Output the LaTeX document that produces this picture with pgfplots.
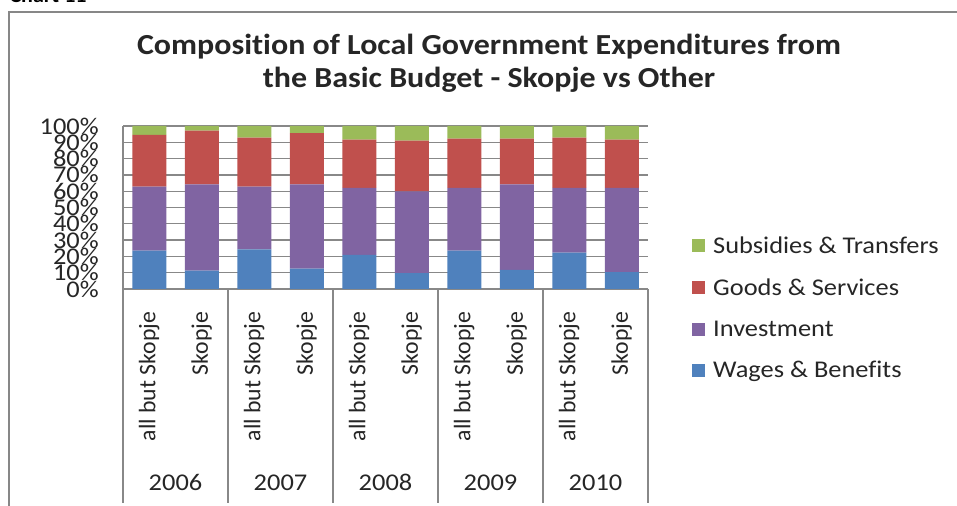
\documentclass[border=0pt]{standalone}
\usepackage{fontspec}
\setmainfont{Carlito}[FakeStretch=1.1, Ligatures={NoCommon}]
\newfontfamily\rotfont{Carlito}[Ligatures={NoCommon}]
\usepackage{pgfplots}
\usepackage{pgfplotstable}
\pgfplotsset{compat=1.18}
\definecolor{cW}{HTML}{4F81BD}
\definecolor{cI}{HTML}{8064A2}
\definecolor{cG}{HTML}{C0504D}
\definecolor{cS}{HTML}{9BBB59}
\definecolor{gridgray}{HTML}{888888}
\definecolor{framegray}{HTML}{878787}
\pgfplotstableread{
x W I G S
0 23.5 39.3 31.7 5.5
1 11.2 53.0 32.9 2.9
2 24.3 38.5 30.0 7.2
3 12.5 51.7 31.5 4.3
4 20.9 41.1 29.6 8.4
5 9.8 50.1 31.1 9.0
6 23.5 38.5 30.2 7.8
7 11.7 52.5 28.0 7.8
8 22.3 39.7 30.8 7.2
9 10.4 51.6 29.6 8.4
}\data
\begin{document}
\begin{tikzpicture}
\useasboundingbox (0,0) rectangle (717.75pt,379.5pt);
\clip (0,0) rectangle (717.75pt,379.5pt);
\node[font=\bfseries\fontsize{15}{15}\selectfont, anchor=base west, inner sep=0pt] at (7pt,377.5pt) {Chart 11};
\draw[color=framegray, line width=1.5pt] (6.75pt,-2pt) -- (6.75pt,370.5pt) -- (722pt,370.5pt);
\node[font=\bfseries\fontsize{21.8}{21.8}\selectfont, text=black!85] at (366.75pt,344.25pt) {Composition of Local Government Expenditures from};
\node[font=\bfseries\fontsize{21.8}{21.8}\selectfont, text=black!85] at (366.75pt,319.5pt) {the Basic Budget - Skopje vs Other};
\begin{axis}[
  at={(92.25pt,162.75pt)}, anchor=south west,
  scale only axis, width=393.75pt, height=122.25pt,
  ybar stacked, bar width=25.5pt,
  xmin=-0.5, xmax=9.5, ymin=0, ymax=100,
  xtick={0,...,9},
  xticklabels={all but Skopje,Skopje,all but Skopje,Skopje,all but Skopje,Skopje,all but Skopje,Skopje,all but Skopje,Skopje},
  xticklabel style={rotate=90, anchor=east, font=\rotfont\fontsize{17.8}{17.8}\selectfont, inner sep=0pt, text=black!85},
  xticklabel shift=17pt,
  ytick={0,10,...,100},
  yticklabels={0\%,10\%,20\%,30\%,40\%,50\%,60\%,70\%,80\%,90\%,100\%},
  yticklabel style={font=\fontsize{18}{18}\selectfont, inner sep=0pt, anchor=east, text=black!85},
  yticklabel shift=18pt,
  major tick length=0pt,
  ymajorgrids, grid style={draw=gridgray, line width=1pt},
  axis x line*=bottom, axis y line*=left,
  axis line style={draw=gridgray, line width=1pt, -},
  clip=false,
  reverse legend,
  legend cell align=left,
  legend image code/.code={\fill[#1] (0pt,-4.9pt) rectangle (9.75pt,4.9pt);},
  legend style={draw=none, fill=none, at={(1.076,-0.118)}, anchor=west,
    font=\fontsize{18}{18}\selectfont, row sep=17.5pt,
    nodes={inner sep=0pt, text=black!85},
    /tikz/every odd column/.append style={column sep=6pt}},
]
\addplot[fill=cW, draw=none] table[x=x,y=W]{\data};
\addplot[fill=cI, draw=none] table[x=x,y=I]{\data};
\addplot[fill=cG, draw=none] table[x=x,y=G]{\data};
\addplot[fill=cS, draw=none] table[x=x,y=S]{\data};
\legend{Wages \& Benefits, Investment, Goods \& Services, Subsidies \& Transfers}
\pgfplotsinvokeforeach{-0.5,1.5,3.5,5.5,7.5,9.5}{
  \draw[gridgray, line width=1pt] (axis cs:#1,0) -- ++(0pt,-160.5pt);
}
\node[font=\fontsize{18}{18}\selectfont, text=black!85, anchor=base, inner sep=0pt] at ([yshift=-151pt]axis cs:0.5,0) {2006};
\node[font=\fontsize{18}{18}\selectfont, text=black!85, anchor=base, inner sep=0pt] at ([yshift=-151pt]axis cs:2.5,0) {2007};
\node[font=\fontsize{18}{18}\selectfont, text=black!85, anchor=base, inner sep=0pt] at ([yshift=-151pt]axis cs:4.5,0) {2008};
\node[font=\fontsize{18}{18}\selectfont, text=black!85, anchor=base, inner sep=0pt] at ([yshift=-151pt]axis cs:6.5,0) {2009};
\node[font=\fontsize{18}{18}\selectfont, text=black!85, anchor=base, inner sep=0pt] at ([yshift=-151pt]axis cs:8.5,0) {2010};
\end{axis}
\end{tikzpicture}
\end{document}
